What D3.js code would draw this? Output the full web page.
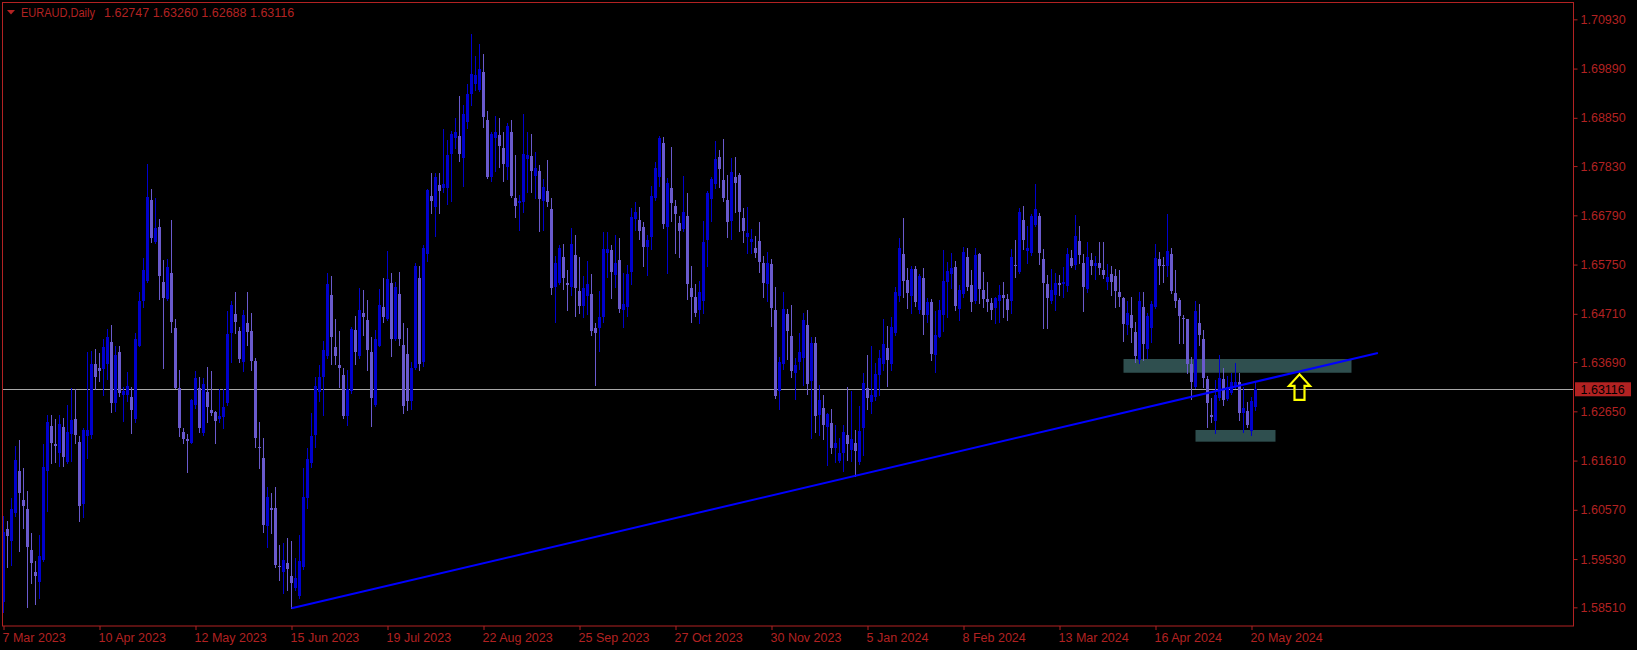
<!DOCTYPE html>
<html><head><meta charset="utf-8">
<script src="https://cdn.jsdelivr.net/npm/d3@7"></script>
<style>html,body{margin:0;padding:0;background:#000;overflow:hidden}</style>
</head><body>
<svg id="chart" width="1637" height="650"></svg>
<script>
// ---- data (EURAUD daily, bar 0 = 7 Mar 2023 ... bar 313 = 21 May 2024) ----
const open = [
1.5863,1.6016,1.5992,1.6050,1.6140,1.6078,1.6058,1.5972,1.5926,1.5905,
1.5950,1.6140,1.6234,1.6195,1.6178,1.6231,1.6159,1.6217,1.6248,1.6201,
1.6069,1.6213,1.6215,1.6365,1.6356,1.6354,1.6366,1.6411,1.6283,1.6390,
1.6299,1.6300,1.6295,1.6249,1.6404,1.6497,1.6541,1.6711,1.6623,1.6654,
1.6538,1.6502,1.6557,1.6442,1.6314,1.6222,1.6206,1.6199,1.6278,1.6314,
1.6220,1.6305,1.6268,1.6263,1.6248,1.6252,1.6282,1.6430,1.6470,1.6435,
1.6370,1.6451,1.6435,1.6371,1.6190,1.6166,1.6023,1.6060,1.6060,1.5938,
1.5926,1.5944,1.5917,1.5891,1.5874,1.5937,1.6081,1.6155,1.6215,1.6305,
1.6337,1.6381,1.6511,1.6400,1.6362,1.6342,1.6255,1.6308,1.6437,1.6381,
1.6472,1.6458,1.6391,1.6278,1.6403,1.6485,1.6461,1.6537,1.6417,1.6513,
1.6405,1.6386,1.6286,1.6356,1.6546,1.6370,1.6597,1.6720,1.6697,1.6743,
1.6736,1.6736,1.6808,1.6842,1.6847,1.6801,1.6877,1.6935,1.6956,1.6944,
1.6982,1.6880,1.6761,1.6842,1.6849,1.6822,1.6782,1.6856,1.6716,1.6706,
1.6708,1.6799,1.6804,1.6763,1.6773,1.6710,1.6730,1.6692,1.6528,1.6537,
1.6592,1.6536,1.6528,1.6595,1.6519,1.6488,1.6509,1.6513,1.6440,1.6442,
1.6464,1.6599,1.6606,1.6553,1.6585,1.6480,1.6486,1.6560,1.6671,1.6669,
1.6654,1.6613,1.6634,1.6716,1.6759,1.6831,1.6654,1.6736,1.6699,1.6662,
1.6650,1.6678,1.6526,1.6506,1.6478,1.6498,1.6626,1.6713,1.6745,1.6802,
1.6754,1.6711,1.6668,1.6759,1.6764,1.6673,1.6634,1.6623,1.6609,1.6625,
1.6579,1.6535,1.6576,1.6479,1.6307,1.6364,1.6471,1.6424,1.6347,1.6369,
1.6377,1.6447,1.6329,1.6410,1.6257,1.6271,1.6231,1.6240,1.6187,1.6161,
1.6178,1.6215,1.6183,1.6199,1.6157,1.6229,1.6314,1.6285,1.6296,1.6342,
1.6366,1.6398,1.6366,1.6430,1.6509,1.6597,1.6542,1.6509,1.6566,1.6479,
1.6546,1.6469,1.6495,1.6383,1.6423,1.6469,1.6539,1.6556,1.6569,1.6481,
1.6513,1.6590,1.6532,1.6497,1.6597,1.6521,1.6502,1.6493,1.6483,1.6497,
1.6511,1.6502,1.6497,1.6574,1.6560,1.6669,1.6604,1.6600,1.6659,1.6678,
1.6587,1.6535,1.6498,1.6511,1.6537,1.6534,1.6530,1.6588,1.6574,1.6625,
1.6579,1.6523,1.6585,1.6573,1.6578,1.6564,1.6539,1.6555,1.6551,1.6518,
1.6504,1.6447,1.6468,1.6432,1.6373,1.6486,1.6396,1.6441,1.6485,1.6586,
1.6574,1.6571,1.6597,1.6514,1.6500,1.6463,1.6460,1.6366,1.6316,1.6452,
1.6418,1.6333,1.6257,1.6245,1.6293,1.6333,1.6290,1.6304,1.6317,1.6328,
1.6261,1.6266,1.6224,1.62747];
const high = [
1.6043,1.6034,1.6081,1.6192,1.6205,1.6145,1.6097,1.6009,1.5948,1.6004,
1.6196,1.6257,1.6257,1.6248,1.6257,1.6250,1.6278,1.6314,1.6312,1.6213,
1.6229,1.6391,1.6393,1.6396,1.6388,1.6417,1.6438,1.6447,1.6402,1.6403,
1.6317,1.6349,1.6316,1.6430,1.6516,1.6588,1.6787,1.6734,1.6715,1.6671,
1.6585,1.6586,1.6669,1.6461,1.6352,1.6229,1.6217,1.6291,1.6351,1.6338,
1.6335,1.6359,1.6351,1.6266,1.6312,1.6312,1.6476,1.6499,1.6516,1.6443,
1.6479,1.6518,1.6472,1.6378,1.6243,1.6208,1.6106,1.6092,1.6106,1.5983,
1.5986,1.5997,1.5992,1.5955,1.6004,1.6145,1.6187,1.6261,1.6338,1.6363,
1.6414,1.6557,1.6551,1.6461,1.6435,1.6356,1.6352,1.6444,1.6466,1.6525,
1.6521,1.6500,1.6421,1.6437,1.6523,1.6546,1.6604,1.6557,1.6539,1.6560,
1.6451,1.6440,1.6370,1.6579,1.6573,1.6616,1.6735,1.6769,1.6768,1.6769,
1.6861,1.6838,1.6857,1.6884,1.6931,1.6912,1.6956,1.7063,1.7016,1.7041,
1.7020,1.6899,1.6854,1.6889,1.6884,1.6854,1.6875,1.6880,1.6806,1.6722,
1.6894,1.6854,1.6850,1.6813,1.6785,1.6756,1.6796,1.6716,1.6593,1.6616,
1.6618,1.6564,1.6653,1.6638,1.6592,1.6551,1.6583,1.6555,1.6451,1.6519,
1.6643,1.6643,1.6616,1.6638,1.6632,1.6557,1.6574,1.6694,1.6707,1.6696,
1.6664,1.6638,1.6741,1.6792,1.6847,1.6845,1.6757,1.6823,1.6711,1.6678,
1.6762,1.6726,1.6571,1.6534,1.6540,1.6666,1.6730,1.6759,1.6835,1.6817,
1.6840,1.6764,1.6801,1.6802,1.6769,1.6694,1.6696,1.6650,1.6635,1.6664,
1.6593,1.6602,1.6586,1.6528,1.6379,1.6518,1.6481,1.6490,1.6378,1.6430,
1.6472,1.6480,1.6421,1.6421,1.6321,1.6300,1.6261,1.6269,1.6236,1.6208,
1.6236,1.6317,1.6307,1.6226,1.6276,1.6347,1.6384,1.6402,1.6368,1.6395,
1.6461,1.6445,1.6464,1.6527,1.6632,1.6673,1.6567,1.6572,1.6572,1.6555,
1.6567,1.6505,1.6502,1.6477,1.6500,1.6606,1.6581,1.6599,1.6583,1.6532,
1.6613,1.6611,1.6564,1.6611,1.6600,1.6559,1.6538,1.6504,1.6506,1.6532,
1.6539,1.6513,1.6607,1.6627,1.6694,1.6699,1.6656,1.6682,1.6745,1.6683,
1.6607,1.6553,1.6565,1.6558,1.6552,1.6569,1.6609,1.6606,1.6680,1.6656,
1.6597,1.6623,1.6599,1.6593,1.6622,1.6623,1.6576,1.6572,1.6565,1.6564,
1.6507,1.6497,1.6507,1.6454,1.6518,1.6518,1.6472,1.6498,1.6618,1.6602,
1.6592,1.6682,1.6609,1.6564,1.6504,1.6468,1.6461,1.6380,1.6497,1.6492,
1.6437,1.6340,1.6293,1.6331,1.6384,1.6356,1.6340,1.6347,1.6368,1.6345,
1.6317,1.6285,1.6295,1.63260];
const low = [
1.5842,1.5937,1.5941,1.6043,1.5971,1.6019,1.5851,1.5903,1.5858,1.5871,
1.5948,1.6055,1.6155,1.6157,1.6150,1.6150,1.6155,1.6161,1.6198,1.6034,
1.6041,1.6166,1.6208,1.6312,1.6330,1.6300,1.6333,1.6264,1.6266,1.6297,
1.6245,1.6286,1.6220,1.6243,1.6402,1.6486,1.6539,1.6623,1.6621,1.6502,
1.6356,1.6500,1.6433,1.6314,1.6212,1.6198,1.6136,1.6198,1.6271,1.6222,
1.6214,1.6243,1.6257,1.6199,1.6243,1.6229,1.6278,1.6370,1.6430,1.6370,
1.6351,1.6405,1.6352,1.6190,1.6145,1.6011,1.5978,1.6007,1.5937,1.5909,
1.5881,1.5888,1.5849,1.5888,1.5870,1.5931,1.6060,1.6147,1.6190,1.6286,
1.6257,1.6377,1.6366,1.6366,1.6316,1.6250,1.6236,1.6303,1.6366,1.6377,
1.6426,1.6352,1.6233,1.6276,1.6402,1.6454,1.6458,1.6381,1.6416,1.6405,
1.6262,1.6268,1.6270,1.6354,1.6352,1.6360,1.6583,1.6683,1.6636,1.6683,
1.6728,1.6703,1.6709,1.6822,1.6794,1.6740,1.6863,1.6912,1.6944,1.6942,
1.6866,1.6757,1.6752,1.6773,1.6782,1.6752,1.6756,1.6718,1.6676,1.6648,
1.6687,1.6729,1.6729,1.6715,1.6645,1.6648,1.6699,1.6512,1.6454,1.6533,
1.6523,1.6478,1.6511,1.6467,1.6472,1.6464,1.6471,1.6426,1.6321,1.6393,
1.6454,1.6549,1.6505,1.6528,1.6474,1.6444,1.6467,1.6533,1.6648,1.6628,
1.6573,1.6554,1.6608,1.6711,1.6741,1.6652,1.6558,1.6668,1.6600,1.6590,
1.6645,1.6502,1.6454,1.6466,1.6452,1.6472,1.6571,1.6667,1.6736,1.6738,
1.6709,1.6634,1.6629,1.6687,1.6645,1.6623,1.6600,1.6599,1.6592,1.6560,
1.6507,1.6497,1.6446,1.6293,1.6269,1.6354,1.6376,1.6337,1.6290,1.6354,
1.6321,1.6302,1.6208,1.6222,1.6215,1.6206,1.6152,1.6176,1.6159,1.6159,
1.6140,1.6162,1.6160,1.6128,1.6154,1.6173,1.6269,1.6261,1.6289,1.6300,
1.6352,1.6318,1.6352,1.6426,1.6497,1.6507,1.6483,1.6472,1.6488,1.6472,
1.6428,1.6454,1.6373,1.6349,1.6421,1.6435,1.6465,1.6525,1.6479,1.6457,
1.6507,1.6521,1.6476,1.6493,1.6493,1.6486,1.6476,1.6459,1.6451,1.6454,
1.6465,1.6458,1.6472,1.6549,1.6557,1.6607,1.6579,1.6595,1.6657,1.6576,
1.6440,1.6440,1.6493,1.6480,1.6511,1.6506,1.6520,1.6569,1.6565,1.6578,
1.6476,1.6518,1.6555,1.6544,1.6555,1.6546,1.6523,1.6511,1.6486,1.6488,
1.6414,1.6428,1.6412,1.6370,1.6368,1.6374,1.6377,1.6412,1.6483,1.6535,
1.6539,1.6550,1.6514,1.6485,1.6409,1.6409,1.6345,1.6290,1.6314,1.6405,
1.6317,1.6231,1.6243,1.6219,1.6289,1.6278,1.6289,1.6302,1.6314,1.6247,
1.6222,1.6231,1.6215,1.62688];
const close = [
1.6011,1.6002,1.6058,1.6162,1.6093,1.6066,1.5979,1.5944,1.5918,1.5960,
1.6147,1.6243,1.6199,1.6192,1.6238,1.6169,1.6222,1.6247,1.6215,1.6065,
1.6226,1.6226,1.6366,1.6337,1.6351,1.6400,1.6421,1.6283,1.6383,1.6304,
1.6308,1.6319,1.6268,1.6418,1.6498,1.6564,1.6717,1.6632,1.6653,1.6551,
1.6505,1.6569,1.6454,1.6315,1.6229,1.6207,1.6203,1.6289,1.6336,1.6229,
1.6323,1.6275,1.6262,1.6245,1.6255,1.6275,1.6428,1.6490,1.6454,1.6375,
1.6468,1.6433,1.6371,1.6208,1.6187,1.6025,1.6085,1.6057,1.5941,1.5936,
1.5951,1.5931,1.5903,1.5912,1.5948,1.6083,1.6164,1.6213,1.6319,1.6338,
1.6395,1.6534,1.6421,1.6381,1.6357,1.6255,1.6312,1.6438,1.6391,1.6479,
1.6464,1.6395,1.6294,1.6417,1.6490,1.6465,1.6544,1.6417,1.6527,1.6417,
1.6276,1.6286,1.6356,1.6573,1.6366,1.6611,1.6733,1.6709,1.6761,1.6730,
1.6745,1.6806,1.6851,1.6854,1.6809,1.6892,1.6935,1.6977,1.6975,1.6988,
1.6887,1.6759,1.6850,1.6854,1.6826,1.6787,1.6868,1.6720,1.6699,1.6709,
1.6809,1.6806,1.6773,1.6778,1.6713,1.6738,1.6708,1.6525,1.6579,1.6611,
1.6547,1.6532,1.6618,1.6526,1.6488,1.6525,1.6534,1.6435,1.6431,1.6464,
1.6607,1.6607,1.6560,1.6578,1.6481,1.6492,1.6555,1.6675,1.6685,1.6646,
1.6613,1.6627,1.6720,1.6780,1.6842,1.6661,1.6747,1.6706,1.6681,1.6645,
1.6687,1.6533,1.6507,1.6472,1.6516,1.6623,1.6726,1.6755,1.6798,1.6777,
1.6716,1.6664,1.6770,1.6748,1.6685,1.6645,1.6641,1.6630,1.6600,1.6581,
1.6537,1.6578,1.6484,1.6298,1.6370,1.6481,1.6435,1.6351,1.6363,1.6391,
1.6458,1.6323,1.6410,1.6255,1.6289,1.6236,1.6259,1.6187,1.6198,1.6178,
1.6222,1.6196,1.6206,1.6182,1.6224,1.6324,1.6293,1.6300,1.6344,1.6377,
1.6407,1.6373,1.6444,1.6518,1.6609,1.6540,1.6514,1.6565,1.6495,1.6551,
1.6469,1.6495,1.6386,1.6426,1.6479,1.6540,1.6561,1.6567,1.6488,1.6521,
1.6602,1.6527,1.6495,1.6595,1.6523,1.6502,1.6495,1.6479,1.6504,1.6511,
1.6504,1.6479,1.6590,1.6572,1.6685,1.6627,1.6611,1.6678,1.6692,1.6600,
1.6537,1.6505,1.6521,1.6537,1.6532,1.6539,1.6597,1.6572,1.6635,1.6595,
1.6527,1.6590,1.6571,1.6578,1.6567,1.6553,1.6548,1.6539,1.6520,1.6506,
1.6450,1.6472,1.6440,1.6381,1.6497,1.6407,1.6466,1.6492,1.6588,1.6572,
1.6571,1.6604,1.6520,1.6497,1.6466,1.6461,1.6365,1.6326,1.6476,1.6426,
1.6336,1.6283,1.6254,1.6300,1.6335,1.6289,1.6317,1.6328,1.6328,1.6261,
1.6271,1.6236,1.6287,1.63116];

const xTickBars   = [0, 24, 48, 72, 96, 120, 144, 168, 192, 216, 240, 264, 288, 312];
const xTickLabels = ["7 Mar 2023","10 Apr 2023","12 May 2023","15 Jun 2023","19 Jul 2023","22 Aug 2023",
                     "25 Sep 2023","27 Oct 2023","30 Nov 2023","5 Jan 2024","8 Feb 2024","13 Mar 2024",
                     "16 Apr 2024","20 May 2024"];
const yTickValues = [1.70930,1.69890,1.68850,1.67830,1.66790,1.65750,1.64710,1.63690,1.62650,1.61610,1.60570,1.59530,1.58510];

const symbolTitle = "EURAUD,Daily";
const lastOHLC = [1.62747, 1.63260, 1.62688, 1.63116];

// drawn objects (bar index / price anchors)
const trendBars   = [72, 343.6];
const trendPrices = [1.5849, 1.63882];
const zoneBarsFrom  = [280, 298];
const zoneBarsTo    = [337, 318];
const zonePriceTop  = [1.63755, 1.62256];
const zonePriceBot  = [1.63465, 1.62009];
const arrowBar = 324, arrowPrice = 1.63432;

// ---- drawing ----
const RED = "#b22222";
const BULL = "#0000cd", BEAR = "#6a5acd";
const FONT = "'Liberation Sans', Arial, sans-serif";
const plot = {left: 2.5, top: 2.5, right: 1573.5, bottom: 626};

const svg = d3.select("#chart");
svg.append("rect").attr("width", 1637).attr("height", 650).attr("fill", "#000");

const x = d3.scaleLinear().domain([0, 313]).range([3.5, 1255.5]);
const y = d3.scaleLinear().domain([1.58510, 1.70930]).range([607.33, 19.33]);

svg.append("defs").append("clipPath").attr("id", "clip")
  .append("rect").attr("x", 3).attr("y", 3).attr("width", plot.right - 3.5).attr("height", plot.bottom - 3.5);

const g = svg.append("g").attr("clip-path", "url(#clip)");

// zones (background)
g.selectAll("rect.zone").data(zoneBarsFrom).join("rect").attr("class", "zone")
  .attr("x", (d, i) => x(d))
  .attr("width", (d, i) => x(zoneBarsTo[i]) - x(d))
  .attr("y", (d, i) => y(zonePriceTop[i]))
  .attr("height", (d, i) => y(zonePriceBot[i]) - y(zonePriceTop[i]))
  .attr("fill", "#2f4f4f");

// last price line
const py = Math.round(y(lastOHLC[3])) + 0.5;
g.append("line").attr("x1", plot.left).attr("x2", plot.right).attr("y1", py).attr("y2", py)
  .attr("stroke", "#a8a8a8").attr("stroke-width", 1);

// candles
const idx = d3.range(open.length);
const cg = g.append("g").attr("shape-rendering", "crispEdges");
cg.selectAll("line.wick").data(idx).join("line").attr("class", "wick")
  .attr("x1", i => x(i)).attr("x2", i => x(i))
  .attr("y1", i => Math.round(y(high[i]))).attr("y2", i => Math.round(y(low[i])) + 1)
  .attr("stroke", i => close[i] >= open[i] ? BULL : BEAR).attr("stroke-width", 1);
cg.selectAll("rect.body").data(idx).join("rect").attr("class", "body")
  .attr("x", i => x(i) - 1.5).attr("width", 3)
  .attr("y", i => Math.round(y(Math.max(open[i], close[i]))))
  .attr("height", i => Math.max(1, Math.round(y(Math.min(open[i], close[i]))) - Math.round(y(Math.max(open[i], close[i])))))
  .attr("fill", i => close[i] >= open[i] ? BULL : BEAR);

// trend line
g.append("line")
  .attr("x1", x(trendBars[0])).attr("y1", y(trendPrices[0]))
  .attr("x2", x(trendBars[1])).attr("y2", y(trendPrices[1]))
  .attr("stroke", "#0000ff").attr("stroke-width", 2);

// arrow
const ax = x(arrowBar), ay = y(arrowPrice);
g.append("path")
  .attr("d", `M${ax},${ay} L${ax+10.5},${ay+11.5} L${ax+5},${ay+11.5} L${ax+5},${ay+25.5} L${ax-5},${ay+25.5} L${ax-5},${ay+11.5} L${ax-10.5},${ay+11.5} Z`)
  .attr("fill", "none").attr("stroke", "#ffff00").attr("stroke-width", 2.2).attr("stroke-linejoin", "miter");

// frame
svg.append("rect").attr("x", plot.left).attr("y", plot.top)
  .attr("width", plot.right - plot.left).attr("height", plot.bottom - plot.top)
  .attr("fill", "none").attr("stroke", RED).attr("stroke-width", 1);

// y axis
const yAxis = svg.append("g").attr("transform", `translate(${plot.right},0)`)
  .call(d3.axisRight(y).tickValues(yTickValues).tickSize(4).tickPadding(3).tickFormat(d => d.toFixed(5)));
yAxis.select(".domain").remove();
yAxis.selectAll("line").attr("stroke", RED);
yAxis.selectAll("text").attr("fill", RED).style("font-family", FONT).style("font-size", "12.5px");

// x axis
const xAxis = svg.append("g").attr("transform", `translate(0,${plot.bottom})`)
  .call(d3.axisBottom(x).tickValues(xTickBars).tickSize(4).tickPadding(3).tickFormat((d, i) => xTickLabels[i]));
xAxis.select(".domain").remove();
xAxis.selectAll("line").attr("stroke", RED);
xAxis.selectAll("text").attr("fill", RED).attr("text-anchor", "start").attr("x", -1.5)
  .style("font-family", FONT).style("font-size", "12.5px");

// price label
const ly = y(lastOHLC[3]);
svg.append("rect").attr("x", 1575).attr("y", ly - 7).attr("width", 56).attr("height", 14).attr("fill", RED);
svg.append("text").attr("x", 1580.5).attr("y", ly).attr("dy", "0.35em").text(lastOHLC[3].toFixed(5))
  .attr("fill", "#000").style("font-family", FONT).style("font-size", "12.5px");

// title
svg.append("path").attr("d", "M7,10 L15,10 L11,14.5 Z").attr("fill", RED);
svg.append("text").attr("x", 21).attr("y", 16.5).text(symbolTitle)
  .attr("textLength", 74).attr("lengthAdjust", "spacingAndGlyphs")
  .attr("fill", RED).style("font-family", FONT).style("font-size", "12.5px");
svg.append("text").attr("x", 104).attr("y", 16.5).text(lastOHLC.map(v => v.toFixed(5)).join(" "))
  .attr("fill", RED).style("font-family", FONT).style("font-size", "12.5px");
</script>
</body></html>
